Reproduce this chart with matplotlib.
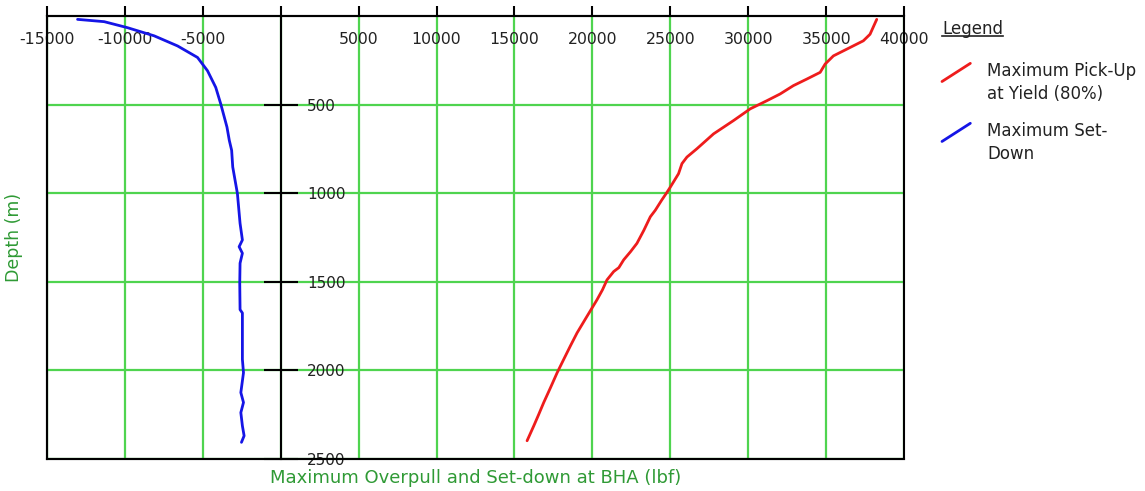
import matplotlib
matplotlib.use("Agg")
import matplotlib.pyplot as plt
from matplotlib.lines import Line2D
from matplotlib.patches import Rectangle
from matplotlib.legend_handler import HandlerBase
from matplotlib.ticker import FuncFormatter

# ---------------- data ----------------
pickup_depth = [19, 103, 140, 187, 225, 271, 318, 356, 393, 440, 478, 524, 590, 665,
                749, 796, 833, 890, 966, 1000, 1039, 1096, 1133, 1210, 1283, 1330, 1376,
                1420, 1442, 1489, 1545, 1601, 1700, 1788, 1860, 1938, 2013, 2100, 2181,
                2250, 2313, 2397]
pickup_force = [38250, 37820, 37390, 36330, 35470, 34940, 34620, 33760, 32900, 32050,
                31200, 30130, 29060, 27780, 26710, 26070, 25750, 25530, 25000, 24750,
                24450, 24040, 23720, 23300, 22860, 22450, 22010, 21700, 21370, 20940,
                20650, 20300, 19620, 19020, 18600, 18160, 17740, 17300, 16880,
                16550, 16240, 15810]

setdown_depth = [19, 32, 66, 112, 169, 234, 309, 403, 496, 627, 702, 758, 852, 1002,
                 1170, 1264, 1302, 1339, 1395, 1507, 1657, 1676, 1938, 2013, 2125,
                 2181, 2238, 2313, 2369, 2406]
setdown_force = [-13040, -11330, -9830, -8120, -6620, -5340, -4700, -4170, -3850, -3450,
                 -3300, -3150, -3080, -2780, -2610, -2460, -2670, -2460, -2610, -2630,
                 -2610, -2460, -2460, -2390, -2560, -2390, -2560, -2460, -2350, -2520]

x_ticks = [-15000, -10000, -5000, 0, 5000, 10000, 15000, 20000, 25000, 30000, 35000, 40000]
y_ticks = [500, 1000, 1500, 2000, 2500]

series_labels = ["Maximum Pick-Up\nat Yield (80%)", "Maximum Set-\nDown"]
x_title = "Maximum Overpull and Set-down at BHA (lbf)"
y_title = "Depth (m)"
legend_title = "Legend"

# ---------------- style ----------------
plt.rcParams["font.family"] = ["DejaVu Sans"]
GRID = "#4fd44f"
LABEL_GREEN = "#2f9a35"
TXT = "#222222"
RED = "#ee1c1c"
BLUE = "#1515e6"

W, H = 1145, 491
fig = plt.figure(figsize=(W / 100, H / 100), dpi=100)
ax = fig.add_axes([47 / W, 1 - 459 / H, (904 - 47) / W, (459 - 16) / H])

ax.plot(pickup_force, pickup_depth, color=RED, lw=2.0, label=series_labels[0],
        solid_capstyle="round", zorder=3)
ax.plot(setdown_force, setdown_depth, color=BLUE, lw=2.0, label=series_labels[1],
        solid_capstyle="round", zorder=3)

ax.set_xlim(x_ticks[0], x_ticks[-1])
ax.set_ylim(y_ticks[-1], 0)
ax.set_xticks(x_ticks)
ax.set_yticks(y_ticks)
ax.grid(True, color=GRID, lw=1.6, zorder=1)
ax.set_axisbelow(True)

# zero axis carries depth ticks
ax.spines["right"].set_position(("data", 0))
for s in ax.spines.values():
    s.set_linewidth(1.5)
    s.set_color("black")
    s.set_zorder(4)
ax.yaxis.tick_right()
ax.tick_params(axis="y", direction="inout", length=24, width=1.5, pad=7,
               labelsize=11, labelcolor=TXT, color="black")
ax.yaxis.set_major_formatter(FuncFormatter(lambda v, p: f"{int(v)}"))

ax.xaxis.tick_top()
ax.tick_params(axis="x", direction="out", length=7.5, width=1.5, pad=-29.5,
               labelsize=11.3, labelcolor=TXT, color="black")
ax.xaxis.set_major_formatter(FuncFormatter(lambda v, p: "" if v == 0 else f"{int(v)}"))

# outer frame
ax.add_patch(Rectangle((0, 0), 1, 1, transform=ax.transAxes, fill=False,
                       edgecolor="black", lw=1.5, clip_on=False, zorder=5))

ax.xaxis.set_label_position("bottom")
ax.set_xlabel(x_title, color=LABEL_GREEN, fontsize=13, labelpad=7)
ax.set_ylabel(y_title, color=LABEL_GREEN, fontsize=12.5, labelpad=17)


class DiagonalHandler(HandlerBase):
    def create_artists(self, legend, orig_handle, xdescent, ydescent, width, height,
                       fontsize, trans):
        shift = 0.7 * fontsize
        line = Line2D([-xdescent, -xdescent + width],
                      [-ydescent + shift, -ydescent + height + shift])
        self.update_prop(line, orig_handle, legend)
        line.set_transform(trans)
        return [line]


handles, labels = ax.get_legend_handles_labels()
leg = ax.legend(handles, labels, loc="upper left",
                bbox_to_anchor=(937 / W, 1 - 15 / H), bbox_transform=fig.transFigure,
                frameon=False, title=legend_title, alignment="left",
                prop={"size": 12}, title_fontproperties={"size": 12},
                handlelength=1.7, handleheight=1.3, handletextpad=1.0,
                labelspacing=1.1, borderaxespad=0, borderpad=0.3,
                handler_map={Line2D: DiagonalHandler()})
for t in leg.get_texts():
    t.set_color(TXT)
    t.set_linespacing(1.4)
leg.get_title().set_color(TXT)
try:
    leg._legend_box.sep = leg._legend_box.sep + 4
except Exception:
    pass

# underline legend title
fig.canvas.draw()
bb = leg.get_title().get_window_extent(fig.canvas.get_renderer())
uy = bb.y0 + 2
fig.add_artist(Line2D([bb.x0 / W, bb.x1 / W], [uy / H, uy / H],
                      transform=fig.transFigure, color=TXT, lw=1.2))

fig.savefig("out.png", dpi=100)
